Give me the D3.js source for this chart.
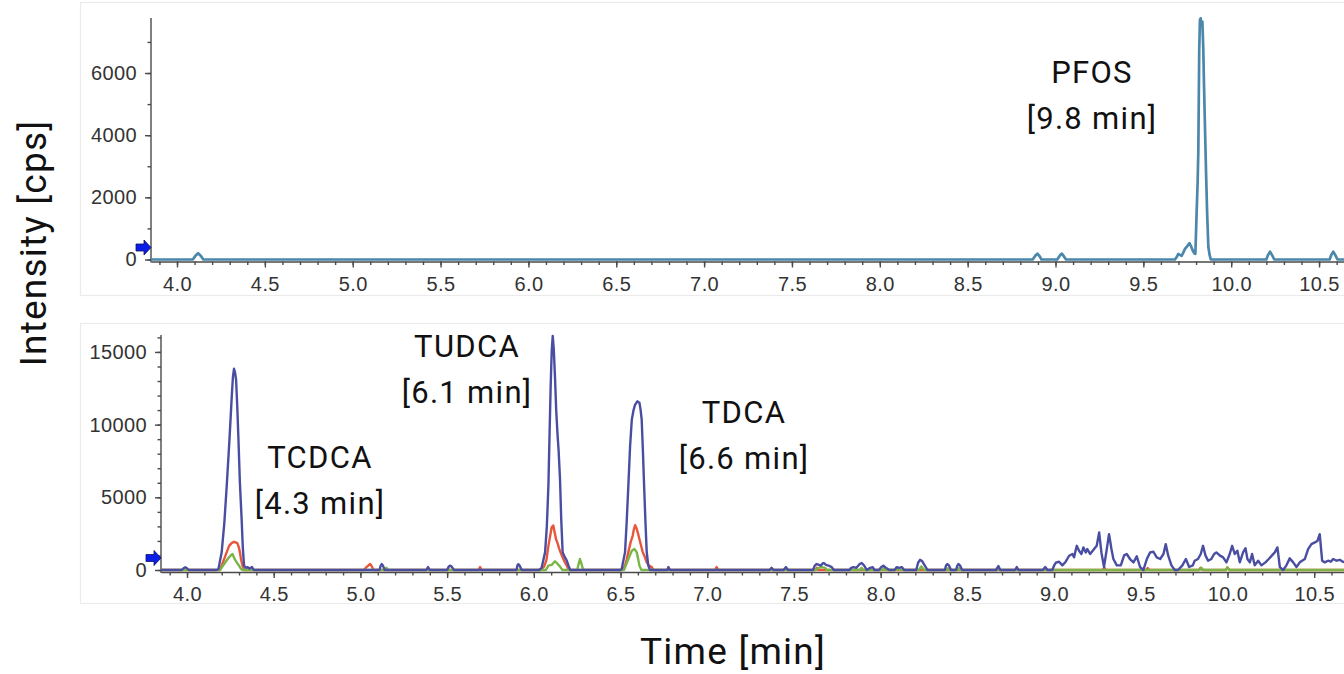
<!DOCTYPE html>
<html>
<head>
<meta charset="utf-8">
<script src="https://cdn.jsdelivr.net/npm/d3@7"></script>
<style>
  body { margin: 0; background: #fff; }
  .tick text { font-family: "Liberation Sans", Arial, sans-serif; font-size: 20px; fill: #333; letter-spacing: 0.4px; }
  .axis path, .axis line { stroke: #4a4a4a; stroke-width: 1.4px; }
  .note { font-family: Roboto, "Open Sans", sans-serif; font-size: 31px; fill: #111; letter-spacing: 1.3px; text-anchor: middle; }
  .title { font-family: Roboto, "Open Sans", sans-serif; font-size: 37px; fill: #111; letter-spacing: 1.2px; text-anchor: middle; }
</style>
</head>
<body>
<svg id="chart" width="1344" height="674"></svg>
<script>
// tick labels
const xTicks = [4.0, 4.5, 5.0, 5.5, 6.0, 6.5, 7.0, 7.5, 8.0, 8.5, 9.0, 9.5, 10.0, 10.5]
const topYTicks = [0, 2000, 4000, 6000]
const bottomYTicks = [0, 5000, 10000, 15000]

// [time (min), intensity (cps)]
const pfosTrace = [
  [3.85, 0], [4.09, 0], [4.105, 120], [4.12, 200], [4.135, 120], [4.15, 0],
  [8.87, 0], [8.885, 120], [8.897, 190], [8.91, 100], [8.92, 0],
  [9.01, 0], [9.025, 130], [9.036, 190], [9.048, 100], [9.06, 0],
  [9.68, 0], [9.69, 80], [9.699, 180], [9.708, 150], [9.718, 120], [9.728, 230], [9.737, 345],
  [9.75, 430], [9.762, 525], [9.772, 420], [9.781, 290], [9.79, 200], [9.796, 180],
  [9.803, 1470], [9.809, 2500], [9.813, 3520], [9.818, 6740], [9.822, 7700], [9.826, 7760],
  [9.831, 7600], [9.836, 7650], [9.841, 6800], [9.845, 5670], [9.851, 4200], [9.857, 2770],
  [9.863, 1500], [9.870, 400], [9.877, 150], [9.884, 0],
  [10.2, 0], [10.21, 150], [10.221, 250], [10.232, 150], [10.245, 0],
  [10.56, 0], [10.57, 150], [10.581, 250], [10.592, 150], [10.605, 0], [10.7, 0]
]

const blueTrace = [
  [3.85, 0], [3.97, 0], [3.98, 120], [3.99, 190], [4.0, 120], [4.01, 0],
  [4.17, 0], [4.181, 60], [4.20, 1230], [4.215, 3200], [4.229, 5780], [4.245, 9000], [4.258, 11940],
  [4.265, 13300], [4.271, 13840], [4.277, 13600], [4.283, 13080], [4.29, 11200], [4.296, 9200],
  [4.305, 6000], [4.315, 3490], [4.322, 1500], [4.329, 300], [4.34, 150], [4.35, 200], [4.36, 100],
  [4.375, 200], [4.385, 0],
  [5.11, 0], [5.117, 300], [5.123, 410], [5.13, 300], [5.14, 0],
  [5.38, 0], [5.39, 200], [5.40, 0],
  [5.5, 0], [5.51, 250], [5.516, 300], [5.525, 250], [5.54, 0],
  [5.90, 0], [5.905, 300], [5.91, 400], [5.918, 300], [5.93, 0],
  [6.03, 0], [6.045, 150], [6.065, 1230], [6.075, 3000], [6.084, 5780], [6.09, 9000], [6.097, 12600],
  [6.103, 15000], [6.109, 16100], [6.115, 15200], [6.122, 13300], [6.129, 11000], [6.136, 9450],
  [6.143, 8200], [6.151, 6230], [6.158, 3500], [6.166, 1230], [6.178, 900], [6.19, 640], [6.2, 300], [6.21, 0],
  [6.50, 0], [6.507, 80], [6.526, 1230], [6.535, 3200], [6.545, 5780], [6.555, 8500], [6.565, 10340],
  [6.575, 11000], [6.584, 11370], [6.597, 11600], [6.609, 11500], [6.616, 11000], [6.622, 10340],
  [6.629, 8200], [6.636, 5780], [6.643, 3500], [6.651, 1230], [6.66, 300], [6.67, 0],
  [6.77, 0], [6.776, 200], [6.785, 0],
  [7.36, 0], [7.371, 150], [7.382, 0],
  [7.44, 0], [7.454, 200], [7.466, 0],
  [7.61, 0], [7.62, 300], [7.631, 410], [7.645, 350], [7.655, 300], [7.665, 450], [7.673, 480],
  [7.685, 350], [7.70, 300], [7.718, 200], [7.73, 0],
  [7.82, 0], [7.83, 150], [7.843, 200], [7.86, 150], [7.878, 400], [7.891, 480], [7.905, 300], [7.92, 0],
  [7.94, 150], [7.954, 200], [7.965, 0],
  [7.99, 0], [8.004, 200], [8.016, 300], [8.03, 150], [8.05, 0],
  [8.08, 0], [8.093, 200], [8.107, 150], [8.122, 200], [8.135, 0],
  [8.205, 0], [8.216, 500], [8.227, 700], [8.24, 600], [8.26, 200], [8.27, 0],
  [8.37, 0], [8.377, 300], [8.385, 410], [8.395, 300], [8.405, 0],
  [8.435, 0], [8.442, 300], [8.449, 410], [8.458, 300], [8.47, 0],
  [8.665, 0], [8.679, 270], [8.69, 0],
  [8.775, 0], [8.785, 200], [8.795, 0],
  [8.935, 0], [8.949, 200], [8.962, 0],
  [8.99, 0], [9.0, 295], [9.010, 500], [9.029, 570], [9.048, 320], [9.067, 570], [9.087, 980],
  [9.106, 1100], [9.115, 870], [9.131, 1665], [9.144, 1325], [9.158, 1100], [9.169, 1555],
  [9.183, 1210], [9.192, 1440], [9.208, 1100], [9.231, 1440], [9.246, 1665], [9.260, 2580],
  [9.273, 1210], [9.288, 205], [9.304, 1440], [9.317, 2470], [9.331, 1440], [9.342, 755],
  [9.362, 320], [9.385, 320], [9.404, 1005], [9.419, 1100], [9.438, 755], [9.458, 525],
  [9.477, 940], [9.496, 205], [9.515, 0], [9.535, 755], [9.554, 1210], [9.573, 1255],
  [9.592, 870], [9.612, 755], [9.631, 1100], [9.644, 1780], [9.658, 1005], [9.677, 320],
  [9.696, 0], [9.715, 0], [9.740, 320], [9.760, 755], [9.779, 205], [9.800, 320],
  [9.811, 640], [9.830, 755], [9.846, 1100], [9.859, 1665], [9.873, 1005], [9.888, 640],
  [9.907, 755], [9.923, 1100], [9.936, 1210], [9.955, 1005], [9.975, 870], [9.994, 525],
  [10.013, 1100], [10.027, 1665], [10.042, 1100], [10.057, 1325], [10.071, 525], [10.090, 1210],
  [10.104, 1500], [10.115, 755], [10.129, 525], [10.142, 1100], [10.157, 320], [10.177, 640],
  [10.196, 320], [10.219, 525], [10.238, 755], [10.257, 1005], [10.273, 1210], [10.288, 1555],
  [10.302, 205], [10.321, 0], [10.340, 320], [10.359, 800], [10.379, 525], [10.398, 205],
  [10.417, 525], [10.446, 755], [10.465, 1440], [10.484, 1780], [10.504, 1900], [10.519, 2000],
  [10.532, 2465], [10.546, 640], [10.561, 525], [10.580, 640], [10.596, 570], [10.609, 755],
  [10.629, 640], [10.648, 700], [10.665, 570], [10.7, 500]
]

const redTrace = [
  [3.85, 0], [4.19, 0], [4.214, 750], [4.228, 1200], [4.243, 1660], [4.257, 1850], [4.271, 1940],
  [4.28, 1900], [4.29, 1850], [4.298, 1600], [4.305, 1230], [4.312, 700], [4.32, 300], [4.33, 0],
  [5.02, 0], [5.035, 200], [5.045, 300], [5.056, 410], [5.066, 250], [5.075, 0],
  [5.68, 0], [5.69, 200], [5.70, 0],
  [6.04, 0], [6.06, 250], [6.073, 700], [6.084, 1660], [6.095, 2400], [6.103, 2940], [6.112, 3060],
  [6.12, 2600], [6.128, 2120], [6.138, 1800], [6.147, 1440], [6.158, 1100], [6.17, 750], [6.18, 500],
  [6.19, 300], [6.2, 0],
  [6.51, 0], [6.526, 300], [6.535, 700], [6.545, 1230], [6.558, 1900], [6.57, 2350], [6.577, 2800],
  [6.584, 3080], [6.593, 2850], [6.601, 2500], [6.609, 2120], [6.618, 1700], [6.628, 1230],
  [6.64, 900], [6.651, 530], [6.665, 300], [6.68, 200], [6.69, 0],
  [7.045, 0], [7.054, 200], [7.065, 0],
  [7.625, 0], [7.632, 150], [7.64, 0],
  [9.28, 0], [9.29, 150], [9.30, 0],
  [9.53, 0], [9.54, 130], [9.55, 0],
  [9.835, 0], [9.845, 150], [9.855, 0],
  [9.99, 0], [10.0, 180], [10.01, 0], [10.7, 0]
]

const greenTrace = [
  [3.85, 0], [4.19, 0], [4.214, 410], [4.228, 650], [4.243, 870], [4.252, 1000], [4.262, 1100],
  [4.268, 950], [4.275, 750], [4.288, 500], [4.3, 300], [4.31, 100], [4.32, 0],
  [5.14, 0], [5.15, 150], [5.16, 0],
  [6.07, 0], [6.084, 300], [6.103, 350], [6.122, 600], [6.135, 450], [6.15, 250], [6.165, 0],
  [6.25, 0], [6.258, 400], [6.266, 750], [6.274, 450], [6.285, 0],
  [6.52, 0], [6.545, 750], [6.555, 1050], [6.565, 1320], [6.58, 1440], [6.593, 1230], [6.601, 800],
  [6.609, 300], [6.62, 0],
  [7.63, 0], [7.64, 150], [7.66, 200], [7.68, 150], [7.69, 0],
  [7.88, 0], [7.89, 150], [7.90, 0],
  [8.01, 0], [8.016, 120], [8.025, 0],
  [8.09, 0], [8.1, 120], [8.11, 0],
  [8.22, 0], [8.235, 250], [8.25, 0],
  [8.38, 0], [8.388, 120], [8.395, 0],
  [8.445, 0], [8.452, 120], [8.46, 0],
  [8.675, 0], [8.682, 120], [8.69, 0],
  [9.84, 0], [9.85, 150], [9.86, 0],
  [9.99, 0], [10.0, 180], [10.01, 0], [10.7, 0]
]

const annotations = [
  { lines: ['PFOS', '[9.8 min]'], x: 1092, y: 83 },
  { lines: ['TCDCA', '[4.3 min]'], x: 320, y: 468 },
  { lines: ['TUDCA', '[6.1 min]'], x: 467, y: 357 },
  { lines: ['TDCA', '[6.6 min]'], x: 744, y: 423 }
]

const svg = d3.select('#chart')

function drawPanel (opts) {
  const g = svg.append('g')
  // faint panel frame
  g.append('rect')
    .attr('x', 80.5).attr('y', opts.frame[0] + 0.5)
    .attr('width', 1300).attr('height', opts.frame[1] - opts.frame[0])
    .attr('fill', 'none').attr('stroke', '#ebebeb').attr('stroke-width', 1.2)

  const x = d3.scaleLinear().domain(opts.xDomain).range([opts.left, 1344])
  const y = d3.scaleLinear().domain(opts.yDomain).range([opts.zeroY, opts.topY])

  const clipId = 'clip-' + opts.name
  svg.append('clipPath').attr('id', clipId)
    .append('rect').attr('x', opts.left).attr('y', opts.topY - 5)
    .attr('width', 1344 - opts.left).attr('height', opts.zeroY - opts.topY + 10)

  // minor ticks
  g.append('g').attr('class', 'axis')
    .attr('transform', `translate(0,${opts.axisY})`)
    .call(d3.axisBottom(x).tickValues(d3.range(39, 107).map(d => d / 10)).tickSize(3.5).tickSizeOuter(0).tickFormat(''))
    .call(s => s.select('.domain').remove())
  g.append('g').attr('class', 'axis')
    .attr('transform', `translate(${opts.left},0)`)
    .call(d3.axisLeft(y).tickValues(d3.range(0, opts.yDomain[1], 1000)).tickSize(3.5).tickSizeOuter(0).tickFormat(''))
    .call(s => s.select('.domain').remove())

  // main axes
  g.append('g').attr('class', 'axis')
    .attr('transform', `translate(0,${opts.axisY})`)
    .call(d3.axisBottom(x).tickValues(xTicks).tickSize(6).tickSizeOuter(0).tickPadding(9).tickFormat(d3.format('.1f')))
  const ya = g.append('g').attr('class', 'axis')
    .attr('transform', `translate(${opts.left},0)`)
    .call(d3.axisLeft(y).tickValues(opts.yTicks).tickSize(6).tickSizeOuter(0).tickPadding(8).tickFormat(d3.format('d')))
  ya.select('.domain').attr('d', `M0,${opts.topY}V${opts.axisY + 1}`)

  const line = d3.line().x(d => x(d[0])).y(d => y(d[1]))
  const traces = g.append('g').attr('clip-path', `url(#${clipId})`)
  opts.series.forEach(s => {
    traces.append('path')
      .datum(s.data)
      .attr('d', line)
      .attr('fill', 'none')
      .attr('stroke', s.color)
      .attr('stroke-width', s.width)
      .attr('stroke-linejoin', 'round')
  })

  // blue start marker next to the zero line
  const ax = opts.left
  const ay = opts.zeroY - 12
  g.append('path')
    .attr('d', `M${ax - 15},${ay - 3.5}H${ax - 7}V${ay - 7.5}L${ax},${ay}L${ax - 7},${ay + 7.5}V${ay + 3.5}H${ax - 15}Z`)
    .attr('fill', '#0a1ee8').attr('stroke', '#101060').attr('stroke-width', 0.8)

  return { x, y }
}

drawPanel({
  name: 'top',
  frame: [2, 295],
  left: 151,
  xDomain: [3.852, 10.642],
  yDomain: [0, 7770],
  zeroY: 259.5,
  topY: 18,
  axisY: 261.5,
  yTicks: topYTicks,
  series: [{ data: pfosTrace, color: '#4a87ab', width: 2.7 }]
})

drawPanel({
  name: 'bottom',
  frame: [323, 603],
  left: 161,
  xDomain: [3.85, 10.672],
  yDomain: [0, 16165],
  zeroY: 570,
  topY: 335,
  axisY: 572,
  yTicks: bottomYTicks,
  series: [
    { data: redTrace, color: '#e8573b', width: 2.4 },
    { data: greenTrace, color: '#7ab547', width: 2.4 },
    { data: blueTrace, color: '#4a4ea2', width: 2.4 }
  ]
})

annotations.forEach(a => {
  const t = svg.append('text').attr('class', 'note').attr('x', a.x).attr('y', a.y)
  a.lines.forEach((l, i) => {
    t.append('tspan').attr('x', a.x).attr('dy', i === 0 ? 0 : 46).text(l)
  })
})

svg.append('text').attr('class', 'title')
  .attr('transform', 'translate(46,243) rotate(-90)')
  .text('Intensity [cps]')

svg.append('text').attr('class', 'title')
  .attr('x', 733).attr('y', 664)
  .text('Time [min]')
</script>
</body>
</html>
